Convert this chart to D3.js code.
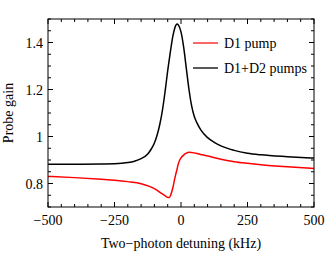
<html>
<head>
<script src="https://cdn.jsdelivr.net/npm/d3@7"></script>
<style>
  body { margin: 0; background: #fff; }
  text { font-family: "Liberation Serif", "Times New Roman", serif; }
</style>
</head>
<body>
<svg width=325 height=253></svg>
<script>
// detuning (kHz) and probe gain
const xBlack = [-500, -400, -300, -250, -200, -175, -150, -125, -110, -100, -90, -80, -70, -60, -50, -40, -30, -20, -15, -10, 0, 10, 20, 30, 40, 50, 60, 75, 100, 125, 150, 200, 250, 300, 400, 500];
const yBlack = [0.882, 0.882, 0.883, 0.884, 0.889, 0.895, 0.906, 0.926, 0.950, 0.972, 1.005, 1.05, 1.11, 1.19, 1.28, 1.36, 1.43, 1.472, 1.479, 1.475, 1.445, 1.38, 1.29, 1.2, 1.13, 1.085, 1.058, 1.027, 0.995, 0.975, 0.96, 0.941, 0.929, 0.922, 0.914, 0.908];

const xRed = [-500, -400, -300, -250, -200, -150, -100, -75, -60, -50, -45, -40, -35, -30, -25, -20, -15, -10, -5, 0, 10, 20, 30, 40, 60, 80, 100, 150, 200, 250, 300, 400, 500];
const yRed = [0.830, 0.825, 0.818, 0.814, 0.808, 0.799, 0.778, 0.759, 0.748, 0.741, 0.740, 0.747, 0.764, 0.785, 0.813, 0.838, 0.860, 0.884, 0.899, 0.909, 0.921, 0.929, 0.933, 0.932, 0.928, 0.922, 0.917, 0.903, 0.893, 0.886, 0.880, 0.871, 0.864];

const xTicks = [-500, -250, 0, 250, 500];
const yTicks = [0.8, 1, 1.2, 1.4];
const legendNames = ['D1 pump', 'D1+D2 pumps'];

const svg = d3.select('svg');
const m = { left: 48, right: 314, top: 19, bottom: 207 };

const x = d3.scaleLinear().domain([-500, 500]).range([m.left, m.right]);
const y = d3.scaleLinear().domain([0.7, 1.5]).range([m.bottom, m.top]);

const line = d3.line().x(d => x(d[0])).y(d => y(d[1])).curve(d3.curveMonotoneX);

svg.append('path')
  .datum(d3.zip(xBlack, yBlack))
  .attr('d', line)
  .attr('fill', 'none')
  .attr('stroke', '#000')
  .attr('stroke-width', 1.5);

svg.append('path')
  .datum(d3.zip(xRed, yRed))
  .attr('d', line)
  .attr('fill', 'none')
  .attr('stroke', '#ff0000')
  .attr('stroke-width', 1.5);

// inward ticks on all four sides
const g = svg.append('g').attr('stroke', '#000').attr('stroke-width', 1);
const xMinor = d3.range(-500, 501, 50);
const yMinor = d3.range(0.7, 1.5001, 0.05);

xMinor.forEach(v => {
  const len = xTicks.includes(v) ? 5 : 3;
  g.append('line').attr('x1', x(v)).attr('x2', x(v)).attr('y1', m.bottom).attr('y2', m.bottom - len);
  g.append('line').attr('x1', x(v)).attr('x2', x(v)).attr('y1', m.top).attr('y2', m.top + len);
});
yMinor.forEach(v => {
  const major = yTicks.some(t => Math.abs(t - v) < 1e-6);
  const len = major ? 5 : 3;
  g.append('line').attr('x1', m.left).attr('x2', m.left + len).attr('y1', y(v)).attr('y2', y(v));
  g.append('line').attr('x1', m.right).attr('x2', m.right - len).attr('y1', y(v)).attr('y2', y(v));
});

svg.append('rect')
  .attr('x', m.left).attr('y', m.top)
  .attr('width', m.right - m.left).attr('height', m.bottom - m.top)
  .attr('fill', 'none').attr('stroke', '#000').attr('stroke-width', 1);

svg.selectAll('text.xt')
  .data(xTicks)
  .join('text')
  .attr('class', 'xt')
  .attr('x', d => x(d))
  .attr('y', 225)
  .attr('text-anchor', 'middle')
  .attr('font-size', 14)
  .text(d => d < 0 ? '\u2212' + Math.abs(d) : d);

svg.selectAll('text.yt')
  .data(yTicks)
  .join('text')
  .attr('class', 'yt')
  .attr('x', 43)
  .attr('y', d => y(d) + 5)
  .attr('text-anchor', 'end')
  .attr('font-size', 14)
  .text(d => d === 1 ? '1' : d.toFixed(1));

svg.append('text')
  .attr('x', (m.left + m.right) / 2)
  .attr('y', 248)
  .attr('text-anchor', 'middle')
  .attr('font-size', 14)
  .text('Two\u2212photon detuning (kHz)');

svg.append('text')
  .attr('transform', `translate(13, ${(m.top + m.bottom) / 2}) rotate(-90)`)
  .attr('text-anchor', 'middle')
  .attr('font-size', 14)
  .text('Probe gain');

// legend
const legColors = ['#ff3333', '#222'];
legendNames.forEach((name, i) => {
  const ly = 43 + i * 25;
  svg.append('line')
    .attr('x1', 193).attr('x2', 218).attr('y1', ly).attr('y2', ly)
    .attr('stroke', legColors[i]).attr('stroke-width', 1.5);
  svg.append('text')
    .attr('x', 224).attr('y', ly + 5)
    .attr('font-size', 14)
    .text(name);
});
</script>
</body>
</html>
